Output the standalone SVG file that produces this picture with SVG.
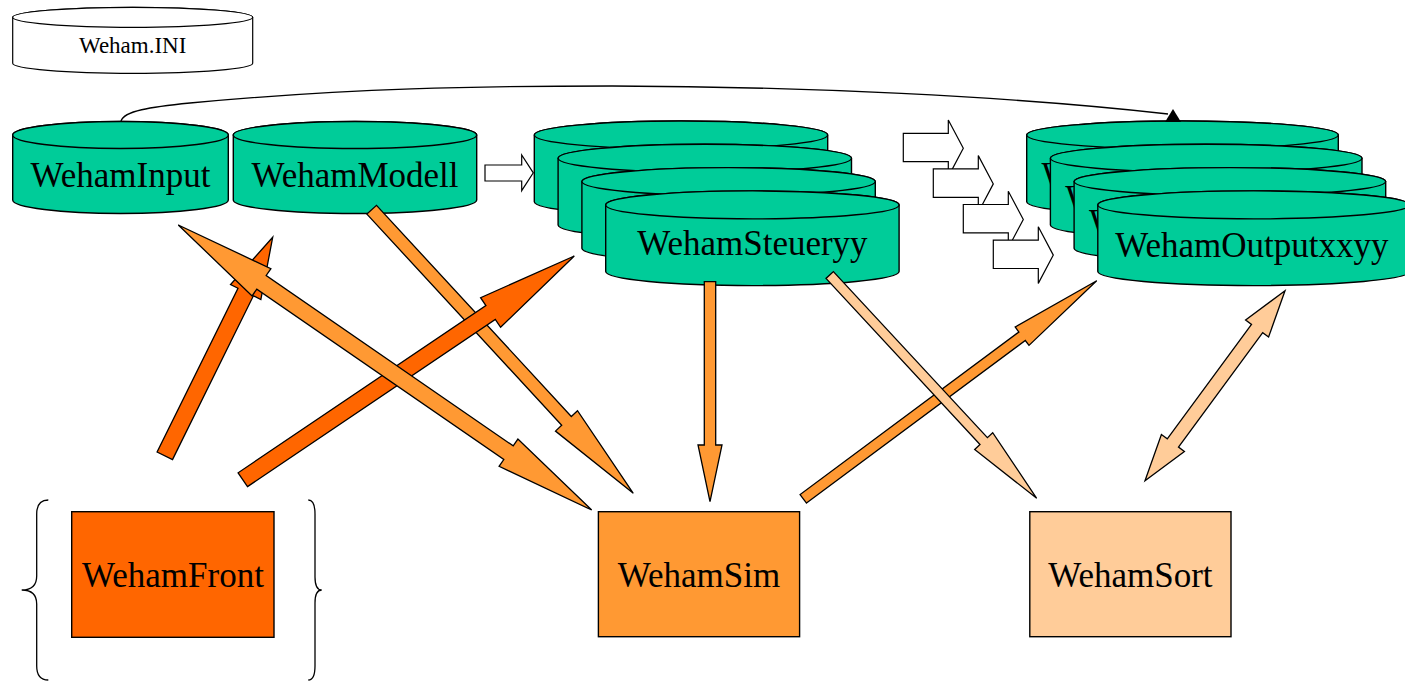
<svg xmlns="http://www.w3.org/2000/svg" width="1405" height="681" viewBox="0 0 1405 681">
<style>
.cyl{fill:#00CC99;stroke:#000;stroke-width:1.4}
.ini{fill:#fff;stroke:#000;stroke-width:1.2}
.t{font-family:"Liberation Serif","Times New Roman",serif;font-size:35px;fill:#000;text-anchor:middle}
.tl{font-family:"Liberation Serif","Times New Roman",serif;font-size:35px;fill:#000}
.ts{font-family:"Liberation Serif","Times New Roman",serif;font-size:23px;fill:#000;text-anchor:middle}
.box{stroke:#000;stroke-width:1.4}
.a1{fill:#FF6600;stroke:#000;stroke-width:1.3;stroke-linejoin:miter}
.a2{fill:#FF9933;stroke:#000;stroke-width:1.3;stroke-linejoin:miter}
.a3{fill:#FFCC99;stroke:#000;stroke-width:1.3;stroke-linejoin:miter}
.h{fill:#fff;stroke:#000;stroke-width:1.2}
.ln{fill:none;stroke:#000;stroke-width:1.3}
</style>
<rect width="1405" height="681" fill="#fff"/>

<g id="weham-ini">
<path class="ini" d="M12.7,17.3 L12.7,63.3 A120,10 0 0 0 252.7,63.3 L252.7,17.3 A120,10 0 0 0 12.7,17.3 Z"/>
<ellipse class="ini" cx="132.7" cy="17.3" rx="120" ry="10"/>
<text class="ts" x="132.7" y="53">Weham.INI</text>
</g>

<g id="link-line">
<path class="ln" d="M121,121 C124,111 150,107 190,103 C350,88 480,86 612,86 C800,86.5 1010,96 1168,114"/>
</g>

<g id="weham-input">
<path class="cyl" d="M12.7,135 L12.7,200 A107.8,13.5 0 0 0 228.3,200 L228.3,135 A107.8,13.5 0 0 0 12.7,135 Z"/>
<ellipse class="cyl" cx="120.5" cy="135" rx="107.8" ry="13.5"/>
<text class="t" x="120.5" y="187">WehamInput</text>
</g>

<g id="weham-modell">
<path class="cyl" d="M233.3,135 L233.3,200 A121.7,13.5 0 0 0 476.7,200 L476.7,135 A121.7,13.5 0 0 0 233.3,135 Z"/>
<ellipse class="cyl" cx="355" cy="135" rx="121.7" ry="13.5"/>
<text class="t" x="355" y="187">WehamModell</text>
</g>

<g id="weham-steuer">
<path class="cyl" d="M534.3,135 L534.3,201.7 A146.7,14 0 0 0 827.7,201.7 L827.7,135 A146.7,14 0 0 0 534.3,135 Z"/>
<ellipse class="cyl" cx="681" cy="135" rx="146.7" ry="14"/>
<path class="cyl" d="M558.1,158.3 L558.1,225 A146.7,14 0 0 0 851.5,225 L851.5,158.3 A146.7,14 0 0 0 558.1,158.3 Z"/>
<ellipse class="cyl" cx="704.8" cy="158.3" rx="146.7" ry="14"/>
<path class="cyl" d="M581.9,181.6 L581.9,248.3 A146.7,14 0 0 0 875.3,248.3 L875.3,181.6 A146.7,14 0 0 0 581.9,181.6 Z"/>
<ellipse class="cyl" cx="728.6" cy="181.6" rx="146.7" ry="14"/>
<path class="cyl" d="M605.7,204.9 L605.7,271.6 A146.7,14 0 0 0 899.1,271.6 L899.1,204.9 A146.7,14 0 0 0 605.7,204.9 Z"/>
<ellipse class="cyl" cx="752.4" cy="204.9" rx="146.7" ry="14"/>
<text class="t" x="752.4" y="255">WehamSteueryy</text>
</g>

<g id="weham-output">
<path class="cyl" d="M1026.7,135 L1026.7,201.7 A155.8,14 0 0 0 1338.3,201.7 L1338.3,135 A155.8,14 0 0 0 1026.7,135 Z"/>
<ellipse class="cyl" cx="1182.5" cy="135" rx="155.8" ry="14"/>
<text class="tl" x="1041.5" y="187.1">W</text>
<path class="cyl" d="M1050.4,158.3 L1050.4,225 A155.8,14 0 0 0 1362,225 L1362,158.3 A155.8,14 0 0 0 1050.4,158.3 Z"/>
<ellipse class="cyl" cx="1206.2" cy="158.3" rx="155.8" ry="14"/>
<text class="tl" x="1065.2" y="210.4">W</text>
<path class="cyl" d="M1074.1,181.6 L1074.1,248.3 A155.8,14 0 0 0 1385.7,248.3 L1385.7,181.6 A155.8,14 0 0 0 1074.1,181.6 Z"/>
<ellipse class="cyl" cx="1229.9" cy="181.6" rx="155.8" ry="14"/>
<text class="tl" x="1088.9" y="233.7">W</text>
<path class="cyl" d="M1097.8,204.9 L1097.8,271.6 A155.8,14 0 0 0 1409.4,271.6 L1409.4,204.9 A155.8,14 0 0 0 1097.8,204.9 Z"/>
<ellipse class="cyl" cx="1253.6" cy="204.9" rx="155.8" ry="14"/>
<text class="t" x="1251.8" y="257">WehamOutputxxyy</text>
</g>

<g id="weham-front">
<rect class="box" x="71.7" y="511.7" width="202.3" height="125.6" fill="#FF6600"/>
<text class="t" x="173" y="587">WehamFront</text>
</g>

<g id="front-braces">
<path class="ln" d="M48.3,500 Q36.7,500 36.7,514 L36.7,576 Q36.7,590 21.7,590 Q36.7,590 36.7,604 L36.7,666 Q36.7,680 48.3,680"/>
<path class="ln" d="M308.3,500 Q315,500 315,514 L315,577 Q315,590 321.7,590 Q315,590 315,603 L315,666 Q315,680 308.3,680"/>
</g>

<g id="weham-sim">
<rect class="box" x="598.4" y="511.7" width="201.2" height="125" fill="#FF9933"/>
<text class="t" x="699" y="587">WehamSim</text>
</g>

<g id="weham-sort">
<rect class="box" x="1029.8" y="511.7" width="201.2" height="125" fill="#FFCC99"/>
<text class="t" x="1130.4" y="587">WehamSort</text>
</g>

<g id="connectors">
<polygon points="1173,109 1165,122 1181,122" fill="#000"/>
<polygon class="h" points="485,165 521.7,165 521.7,155 533.3,172.8 521.7,190.7 521.7,181 485,181"/>
<polygon class="h" points="903.3,133.3 948.3,133.3 948.3,120 963.3,148.3 948.3,176.6 948.3,161.7 903.3,161.7"/>
<polygon class="h" points="933.3,168.9 978.3,168.9 978.3,155.6 993.3,183.9 978.3,212.2 978.3,197.3 933.3,197.3"/>
<polygon class="h" points="963.3,204.5 1008.3,204.5 1008.3,191.2 1023.3,219.5 1008.3,247.8 1008.3,232.9 963.3,232.9"/>
<polygon class="h" points="993.3,240.1 1038.3,240.1 1038.3,226.8 1053.3,255.1 1038.3,283.4 1038.3,268.5 993.3,268.5"/>

<polygon class="a2" points="704.3,281.7 704.3,445 698,445 710,501.7 722,445 715.7,445 715.7,281.7"/>
<polygon class="a2" points="366.9,214.1 561.7,425.3 555.5,431.1 633.3,493.3 577.5,410.7 571.3,416.5 376.5,205.3"/>
<polygon class="a1" points="172.5,459.6 253.4,295.8 260.85,299.5 272.7,237.3 230.55,284.5 238,288.2 157.1,452"/>
<polygon class="a1" points="247.5,486.6 495.3,319.4 500.6,327.3 574.3,256 480.6,297.7 485.9,305.6 238.1,472.8"/>
<polygon class="a2" points="178.3,225 252.1,295.9 256.8,289.1 503.8,459.5 499.1,466.3 591.7,510 517.9,439.1 513.2,445.9 266.2,275.5 270.9,268.7"/>
<polygon class="a2" points="806.5,503.1 1025.3,340.5 1029,345.4 1096.7,280.7 1015.2,327 1018.9,332 800.1,494.6"/>
<polygon class="a3" points="826,278.4 980,444.5 974.7,449.5 1036.7,498.3 992.7,432.7 987.4,437.7 833.4,271.6"/>
<polygon class="a3" points="1145,480.7 1184.4,451.4 1178.5,447.1 1262.7,332.7 1268.6,337 1285,290.7 1245.6,320.1 1251.5,324.4 1167.3,438.8 1161.4,434.5"/>
</g>
</svg>
